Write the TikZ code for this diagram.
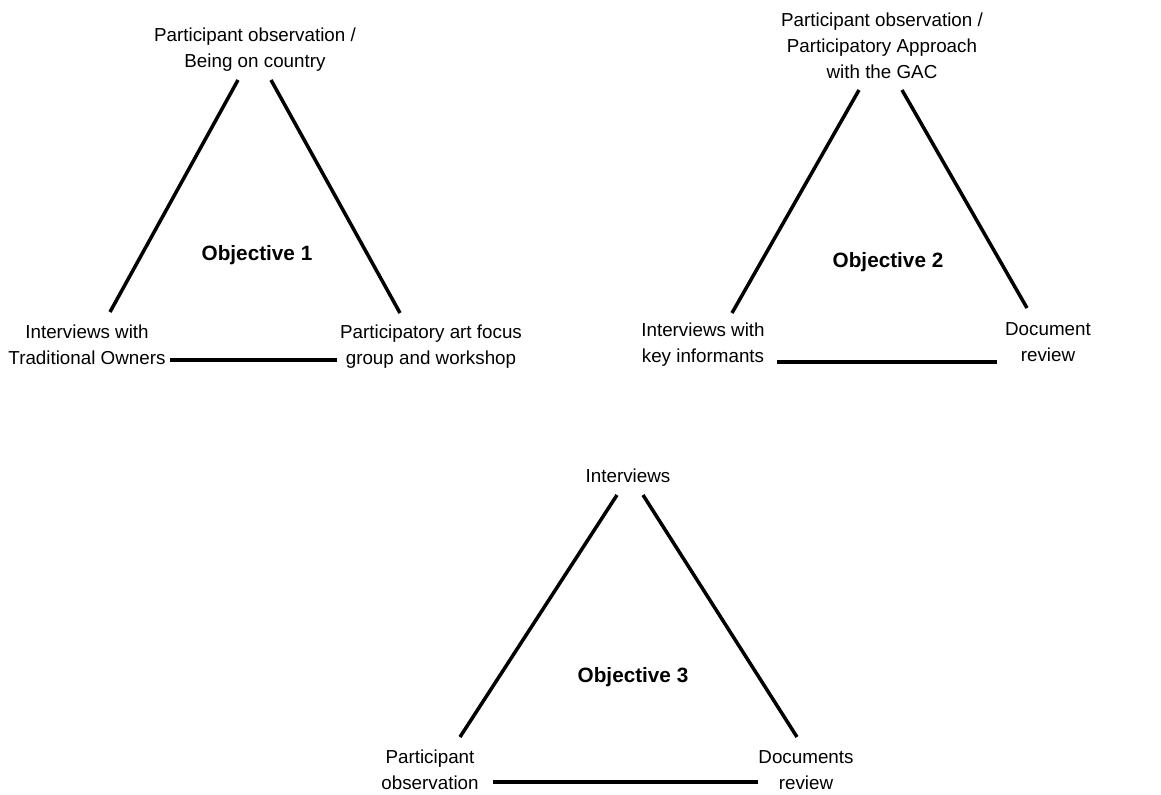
\documentclass[tikz,border=0pt]{standalone}
\usepackage{fontspec}
\setmainfont{Liberation Sans}
\begin{document}
\begin{tikzpicture}[x=0.02cm,y=-0.02cm,
    corner/.style={align=center,inner sep=0pt,font=\fontsize{10.7}{14.7}\selectfont},
    aim/.style={inner sep=0pt,font=\fontsize{11.8}{14}\selectfont\bfseries},
    side/.style={line width=2pt}]
    \useasboundingbox (0,0) rectangle (1161,795);

    % Objective 1 triangle
    \node[corner] (top1) at (255,50) {Participant observation /\\Being on country};
    \node[corner] (left1) at (87,345) {Interviews with\\Traditional Owners};
    \node[corner] (right1) at (431,347) {Participatory art focus\\group and workshop};
    \node[aim] (obj1) at (257,255) {Objective 1};
    \coordinate (a1) at (238,80);  \coordinate (b1) at (110,312);
    \coordinate (c1) at (271,80);  \coordinate (d1) at (400,313);
    \coordinate (e1) at (170,360); \coordinate (f1) at (337,360);
    \draw[side] (a1) -- (b1);
    \draw[side] (c1) -- (d1);
    \draw[side] (e1) -- (f1);

    % Objective 2 triangle
    \node[corner] (top2) at (882,46) {Participant observation /\\Participatory Approach\\with the GAC};
    \node[corner] (left2) at (703,345) {Interviews with\\key informants};
    \node[corner] (right2) at (1048,342) {Document\\review};
    \node[aim] (obj2) at (888,262) {Objective 2};
    \coordinate (a2) at (859,90);  \coordinate (b2) at (732,313);
    \coordinate (c2) at (902,90);  \coordinate (d2) at (1027,308);
    \coordinate (e2) at (777,362); \coordinate (f2) at (997,362);
    \draw[side] (a2) -- (b2);
    \draw[side] (c2) -- (d2);
    \draw[side] (e2) -- (f2);

    % Objective 3 triangle
    \node[corner] (top3) at (628,476) {Interviews};
    \node[corner] (left3) at (430,770) {Participant\\observation};
    \node[corner] (right3) at (806,770) {Documents\\review};
    \node[aim] (obj3) at (633,677) {Objective 3};
    \coordinate (a3) at (617,495); \coordinate (b3) at (460,737);
    \coordinate (c3) at (643,495); \coordinate (d3) at (797,737);
    \coordinate (e3) at (493,782); \coordinate (f3) at (758,782);
    \draw[side] (a3) -- (b3);
    \draw[side] (c3) -- (d3);
    \draw[side] (e3) -- (f3);
\end{tikzpicture}
\end{document}
